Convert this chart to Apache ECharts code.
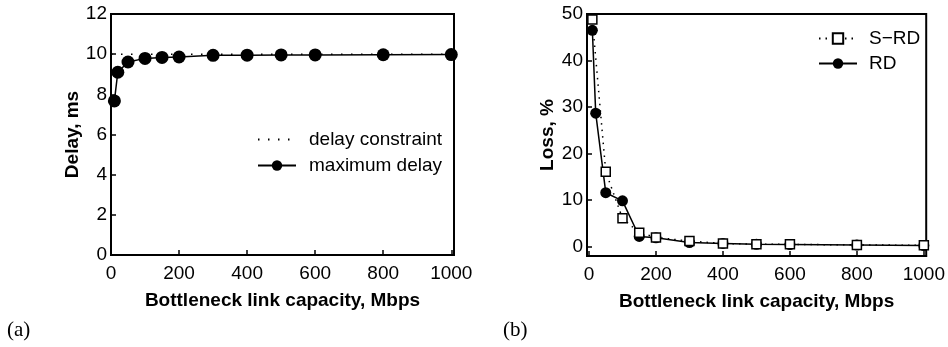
<!DOCTYPE html>
<html>
<head>
<meta charset="utf-8">
<script src="https://cdn.jsdelivr.net/npm/echarts@6/dist/echarts.min.js"></script>
<style>
  html, body { margin: 0; padding: 0; background: #fff; }
  #chart { width: 948px; height: 347px; }
</style>
</head>
<body>
<div id="chart"></div>
<script>
// capacities (Mbps)
const capacities = [10, 20, 50, 100, 150, 200, 300, 400, 500, 600, 800, 1000];
const srdCapacities = [10, 50, 100, 150, 200, 300, 400, 500, 600, 800, 1000];

// panel (a): delay, ms
const constraintX = [0, 1000];
const constraintY = [10, 10];
const maxDelay = [7.67, 9.1, 9.61, 9.79, 9.84, 9.86, 9.94, 9.95, 9.96, 9.96, 9.97, 9.98];

// panel (b): loss, %
const rdLoss = [46.5, 28.7, 11.6, 9.85, 2.2, 1.9, 0.9, 0.7, 0.5, 0.45, 0.35, 0.25];
const srdLoss = [48.8, 16.1, 6.1, 3.0, 2.0, 1.2, 0.7, 0.55, 0.5, 0.38, 0.3];

// tick labels
const capacityTicks = [0, 200, 400, 600, 800, 1000];
const delayTicks = [0, 2, 4, 6, 8, 10, 12];
const lossTicks = [0, 10, 20, 30, 40, 50];

const zip = (xs, ys) => xs.map((x, i) => [x, ys[i]]);

const sans = "'Liberation Sans', Arial, sans-serif";
const serif = "'Liberation Serif', 'DejaVu Serif', serif";

function xAxis(gridIndex, min, max) {
  return {
    type: "value",
    gridIndex,
    min,
    max,
    name: "Bottleneck link capacity, Mbps",
    nameLocation: "middle",
    nameGap: 36,
    nameTextStyle: { fontFamily: sans, fontSize: 19, fontWeight: "bold", color: "#000" },
    axisLine: { onZero: false, lineStyle: { color: "#000", width: 2 } },
    axisTick: { inside: true, length: 5, customValues: capacityTicks, lineStyle: { color: "#000", width: 1.5 } },
    axisLabel: {
      customValues: capacityTicks,
      formatter: (v) => String(v),
      fontFamily: sans,
      fontSize: 19,
      color: "#000",
      margin: 9,
    },
    splitLine: { show: false },
  };
}

function yAxis(gridIndex, min, max, ticks, name, gap) {
  return {
    type: "value",
    gridIndex,
    min,
    max,
    name,
    nameLocation: "middle",
    nameGap: gap,
    nameTextStyle: { fontFamily: sans, fontSize: 19, fontWeight: "bold", color: "#000" },
    axisLine: { onZero: false, lineStyle: { color: "#000", width: 2 } },
    axisTick: { inside: true, length: 5, customValues: ticks, lineStyle: { color: "#000", width: 1.5 } },
    axisLabel: { customValues: ticks, fontFamily: sans, fontSize: 19, color: "#000", margin: 4 },
    splitLine: { show: false },
  };
}

const chart = echarts.init(document.getElementById("chart"), null, { renderer: "canvas" });

chart.setOption({
  animation: false,
  backgroundColor: "#fff",
  grid: [
    { left: 111, top: 14, width: 343, height: 241, show: true, borderColor: "#000", borderWidth: 2 },
    { left: 587, top: 14, width: 342, height: 242, show: true, borderColor: "#000", borderWidth: 2 },
  ],
  xAxis: [xAxis(0, 0, 1008), xAxis(1, -6, 1007)],
  yAxis: [
    yAxis(0, 0, 12, delayTicks, "Delay, ms", 29),
    yAxis(1, -2, 50, lossTicks, "Loss, %", 30),
  ],
  legend: [
    {
      data: [
        { name: "delay constraint", itemStyle: { opacity: 0 } },
        "maximum delay",
      ],
      orient: "vertical",
      left: 252,
      top: 125,
      itemWidth: 38,
      itemHeight: 13,
      itemGap: 7,
      textStyle: { fontFamily: sans, fontSize: 19, color: "#000", padding: [0, 0, 0, 8] },
    },
    {
      data: ["S\u2212RD", "RD"],
      orient: "vertical",
      left: 813,
      top: 24,
      itemWidth: 38,
      itemHeight: 13,
      itemGap: 6,
      textStyle: { fontFamily: sans, fontSize: 19, color: "#000", padding: [0, 0, 0, 7] },
    },
  ],
  series: [
    {
      name: "delay constraint",
      type: "line",
      xAxisIndex: 0,
      yAxisIndex: 0,
      data: zip(constraintX, constraintY),
      showSymbol: false,
      symbol: "none",
      lineStyle: { color: "#000", width: 1.5, type: [1.5, 8.5] },
      itemStyle: { color: "#000" },
    },
    {
      name: "maximum delay",
      type: "line",
      xAxisIndex: 0,
      yAxisIndex: 0,
      data: zip(capacities, maxDelay),
      symbol: "circle",
      symbolSize: 13,
      clip: false,
      lineStyle: { color: "#000", width: 1.5 },
      itemStyle: { color: "#000" },
    },
    {
      name: "RD",
      type: "line",
      xAxisIndex: 1,
      yAxisIndex: 1,
      data: zip(capacities, rdLoss),
      symbol: "circle",
      symbolSize: 11,
      clip: false,
      lineStyle: { color: "#000", width: 1.5 },
      itemStyle: { color: "#000" },
    },
    {
      name: "S\u2212RD",
      type: "line",
      xAxisIndex: 1,
      yAxisIndex: 1,
      data: zip(srdCapacities, srdLoss),
      symbol: "rect",
      symbolSize: 9,
      clip: false,
      lineStyle: { color: "#000", width: 1.5, type: [1.5, 5] },
      itemStyle: { color: "#fff", borderColor: "#000", borderWidth: 1.5 },
    },
  ],
  graphic: [
    { type: "text", left: 7, top: 320, style: { text: "(a)", font: "21px " + serif, fill: "#000" } },
    { type: "text", left: 503, top: 320, style: { text: "(b)", font: "21px " + serif, fill: "#000" } },
  ],
});
</script>
</body>
</html>
